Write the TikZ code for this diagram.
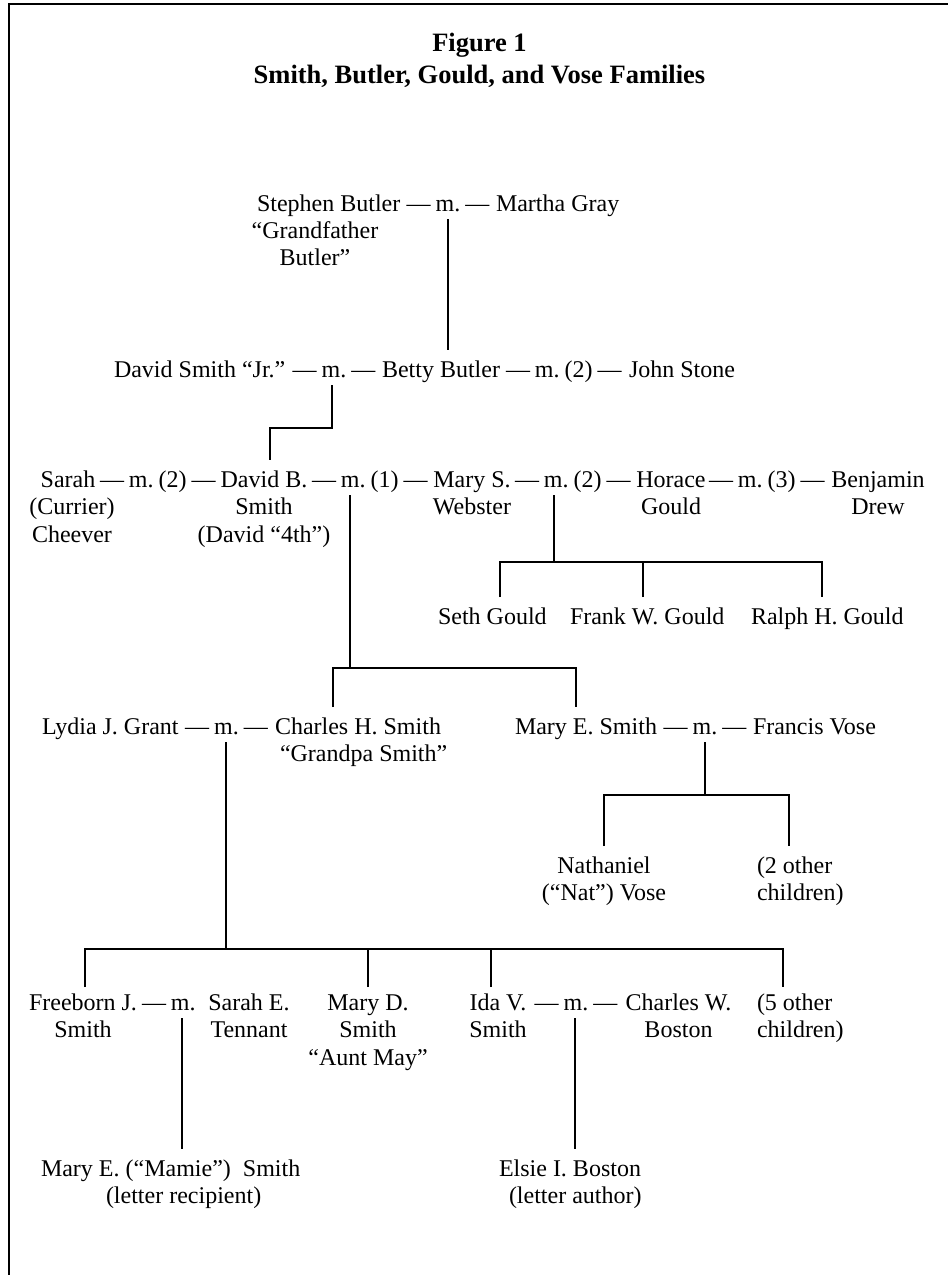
\documentclass[tikz,border=0pt]{standalone}
\usepackage{fontspec}
\setmainfont{Liberation Serif}
\usetikzlibrary{calc}
\newcommand\stk[2][c]{\begin{tabular}[t]{@{}#1@{}}#2\end{tabular}}
\newcommand\bodyfont{\fontsize{24bp}{27.6bp}\selectfont\frenchspacing}
\newcommand\titlefont{\fontsize{26.5bp}{32bp}\selectfont\bfseries\frenchspacing}
\newcommand\msp{\hspace{5bp}}
\begin{document}
\frenchspacing
\begin{tikzpicture}[x=1bp,y=-1bp,
  txt/.style={inner sep=0pt, outer sep=0pt, font=\bodyfont},
  pers/.style={txt, outer ysep=7.5bp},
  kid/.style={txt, outer ysep=3.5bp},
  mar/.style={txt},
  link/.style={line width=2bp},
  frame/.style={line width=2.2bp, line join=miter}]
\useasboundingbox (0,0) rectangle (948,1275);
\draw[frame] (9,1276) -- (9,3.7) -- (949,3.7);

% title
\node[txt, font=\titlefont, anchor=base] (title) at (479.5,51)
  {\stk{Figure 1\\Smith, Butler, Gould, and Vose Families}};

% row 1
\node[pers, anchor=base west] (sb) at (257,211) {\stk{Stephen Butler}};
\node[mar, anchor=base] (m1) at (448,211) {\strut—\msp m.\msp —};
\node[pers, anchor=base west] (mg) at (496,211) {\stk{Martha Gray}};
\node[txt, anchor=base] (gb) at (315,238) {\stk{“Grandfather\\Butler”}};

% row 2
\node[pers, anchor=base west] (ds) at (114,377) {\stk{David Smith “Jr.”}};
\node[mar, anchor=base] (m2) at (334,377) {\strut—\msp m.\msp —};
\node[pers, anchor=base west] (bb) at (382,377) {\stk{Betty Butler}};
\node[mar, anchor=base west] (m2b) at (506,377) {\strut—\msp m.\msp (2)\msp —};
\node[pers, anchor=base west] (js) at (629,377) {\stk{John Stone}};

% row 3
\node[pers, anchor=base] (sa) at (72,487) {\stk{Sarah\kern8bp\\(Currier)\\Cheever}};
\node[mar, anchor=base west] (m3a) at (100,487) {\strut—\msp m.\msp (2)\msp —};
\node[pers, anchor=base] (db) at (264,487) {\stk{David B.\\Smith\\(David “4th”)}};
\node[mar, anchor=base west] (m3b) at (312,487) {\strut—\msp m.\msp (1)\msp —};
\node[pers, anchor=base] (ms) at (472,487) {\stk{Mary S.\\Webster}};
\node[mar, anchor=base west] (m3c) at (515,487) {\strut—\msp m.\msp (2)\msp —};
\node[pers, anchor=base] (hg) at (671,487) {\stk{Horace\\Gould}};
\node[mar, anchor=base west] (m3d) at (709,487) {\strut—\msp m.\msp (3)\msp —};
\node[pers, anchor=base] (bd) at (878,487) {\stk{Benjamin\\Drew}};

% Gould children
\node[pers, anchor=base west] (seth) at (438,624) {\stk{Seth Gould}};
\node[pers, anchor=base west] (frank) at (570,624) {\stk{Frank W. Gould}};
\node[pers, anchor=base west] (ralph) at (751,624) {\stk{Ralph H. Gould}};

% row 4
\node[pers, anchor=base west] (lg) at (42,734) {\stk{Lydia J. Grant}};
\node[mar, anchor=base] (m4a) at (226.5,734) {\strut—\msp m.\msp —};
\node[pers, anchor=base west] (cs) at (275,734) {\stk[l]{Charles H. Smith\\\kern5bp“Grandpa Smith”}};
\node[pers, anchor=base west] (ME) at (515,734) {\stk{Mary E. Smith}};
\node[mar, anchor=base] (m4b) at (705,734) {\strut—\msp m.\msp —};
\node[pers, anchor=base west] (fv) at (753,734) {\stk{Francis Vose}};

% Vose children
\node[pers, anchor=base] (nat) at (604,873) {\stk{Nathaniel\\(“Nat”) Vose}};
\node[pers, anchor=base west] (oc2) at (757,873) {\stk[l]{(2 other\\children)}};

% row 5
\node[kid, anchor=base] (fj) at (83,1010) {\stk{Freeborn J.\\Smith}};
\node[mar, anchor=base west] (m5a) at (142,1010) {\strut—\msp m.};
\node[kid, anchor=base] (se) at (249,1010) {\stk{Sarah E.\\Tennant}};
\node[kid, anchor=base] (md) at (368,1010) {\stk{Mary D.\\Smith\\“Aunt May”}};
\node[kid, anchor=base] (iv) at (498,1010) {\stk{Ida V.\\Smith}};
\node[mar, anchor=base] (m5b) at (576,1010) {\strut—\msp m.\msp —};
\node[kid, anchor=base] (cw) at (678.5,1010) {\stk{Charles W.\\Boston}};
\node[kid, anchor=base west] (oc5) at (757,1010) {\stk[l]{(5 other\\children)}};

% row 6
\node[pers, anchor=base west] (mm) at (41,1176) {\stk[l]{Mary E. (“Mamie”)\ \ Smith\\\kern65bp(letter recipient)}};
\node[pers, anchor=base west] (eb) at (499,1176) {\stk[l]{Elsie I. Boston\\\kern10bp(letter author)}};

% connectors
\draw[link] (m1.south) -- (m1.south |- bb.north);

\coordinate (k0) at ([xshift=-2bp]m2.south);
\coordinate (e1) at (270,428);
\draw[link] (k0) |- (e1) -- (e1 |- db.north);

\coordinate (k1) at ([xshift=38bp]m3b.south west);
\coordinate (b1) at (0,668);
\coordinate (c1a) at ([xshift=58bp]cs.north west);
\coordinate (c1b) at ([xshift=-10bp]ME.north);
\draw[link] (k1) -- (k1 |- b1);
\draw[link] (c1a) -- (c1a |- b1) -- (c1b |- b1) -- (c1b);

\coordinate (k2) at ([xshift=39bp]m3c.south west);
\coordinate (b2) at (0,562);
\coordinate (c2a) at ([xshift=8bp]seth.north);
\coordinate (c2b) at ([xshift=-4bp]frank.north);
\coordinate (c2c) at ([xshift=-5bp]ralph.north);
\draw[link] (k2) -- (k2 |- b2);
\draw[link] (c2a) -- (c2a |- b2) -- (c2c |- b2) -- (c2c);
\draw[link] (c2b) -- (c2b |- b2);

\coordinate (b3) at (0,795);
\coordinate (c3b) at ([xshift=32bp]oc2.north west);
\draw[link] (m4b.south) -- (m4b.south |- b3);
\draw[link] (nat.north) -- (nat.north |- b3) -- (c3b |- b3) -- (c3b);

\coordinate (b4) at (0,949);
\coordinate (k4) at ([xshift=-1bp]m4a.south);
\coordinate (c4a) at ([xshift=2bp]fj.north);
\coordinate (c4c) at ([xshift=-7bp]iv.north);
\coordinate (c4d) at ([xshift=26bp]oc5.north west);
\draw[link] (k4) -- (k4 |- b4);
\draw[link] (c4a) -- (c4a |- b4) -- (c4d |- b4) -- (c4d);
\draw[link] (md.north) -- (md.north |- b4);
\draw[link] (c4c) -- (c4c |- b4);

\coordinate (k5) at ([xshift=40bp]m5a.south west);
\draw[link] (k5) -- (k5 |- mm.north);
\draw[link] ([xshift=-1bp]m5b.south) -- ([xshift=-1bp]m5b.south |- eb.north);
\end{tikzpicture}
\end{document}
